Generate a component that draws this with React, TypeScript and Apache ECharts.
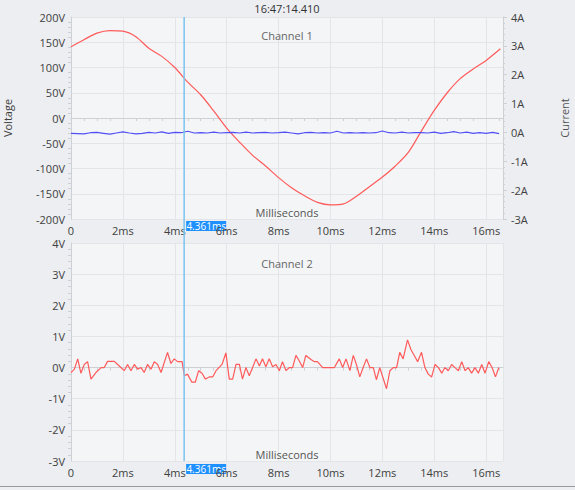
import React, { useEffect, useRef } from "react";
import * as echarts from "echarts";

// ---- Data ----
const HEADER_TIME = "16:47:14.410";
const CURSOR_MS = 4.361;
const X_MAX_MS = 16.65;

// Channel 1 voltage [ms, V]
const CH1_VOLTAGE: [number, number][] = [
  [0, 141], [0.5, 155], [1, 168], [1.5, 173], [2, 172], [2.5, 161], [3, 138], [3.5, 122],
  [4, 100], [4.5, 71], [5, 46], [5.5, 14], [6, -20], [6.5, -48], [7, -74], [7.5, -95],
  [8, -118], [8.5, -138], [9, -154], [9.5, -167], [10, -172], [10.5, -170], [11, -155],
  [11.5, -136], [12, -117], [12.5, -95], [13, -68], [13.5, -26], [14, 15], [14.5, 50],
  [15, 78], [15.5, 97], [16, 114], [16.55, 137],
];

// Channel 1 current [ms, A]
const CH1_CURRENT: [number, number][] = [
  [0, -0.03], [0.25, -0.04], [0.5, -0.05], [0.75, -0.01], [1.0, 0.0], [1.25, -0.03], [1.5, -0.06],
  [1.75, -0.02], [2.0, 0.02], [2.25, -0.02], [2.5, -0.05], [2.75, -0.03], [3.0, 0.0], [3.25, -0.02],
  [3.5, 0.02], [3.75, -0.03], [4.0, 0.0], [4.25, -0.01], [4.5, 0.04], [4.75, -0.02], [5.0, -0.01],
  [5.25, -0.02], [5.5, 0.01], [5.75, -0.02], [6.0, -0.01], [6.25, 0.0], [6.5, -0.02], [6.75, 0.01],
  [7.0, -0.02], [7.25, -0.01], [7.5, 0.0], [7.75, -0.02], [8.0, -0.01], [8.25, 0.01], [8.5, -0.02],
  [8.75, -0.05], [9.0, -0.01], [9.25, 0.0], [9.5, -0.02], [9.75, -0.01], [10.0, -0.02], [10.25, 0.04],
  [10.5, -0.02], [10.75, -0.01], [11.0, -0.02], [11.25, -0.01], [11.5, -0.02], [11.75, -0.01],
  [12.0, 0.05], [12.25, -0.01], [12.5, -0.02], [12.75, 0.01], [13.0, -0.02], [13.25, -0.01],
  [13.5, -0.01], [13.75, -0.02], [14.0, 0.01], [14.25, -0.03], [14.5, -0.01], [14.75, 0.03],
  [15.0, -0.02], [15.25, 0.01], [15.5, -0.03], [15.75, -0.01], [16.0, -0.03], [16.25, 0.0], [16.5, -0.04],
];

// Channel 2 voltage [ms, V]
const CH2_VOLTAGE: [number, number][] = [
  [0.0, -0.16], [0.13, -0.05], [0.26, 0.28], [0.38, -0.18], [0.51, 0.1], [0.64, 0.19], [0.77, -0.37],
  [0.96, -0.16], [1.16, 0], [1.28, 0], [1.41, 0.2], [1.67, 0.2], [1.86, 0.05], [2.05, -0.1],
  [2.18, 0.1], [2.31, -0.1], [2.44, 0.1], [2.57, -0.05], [2.7, 0], [2.82, -0.16], [2.95, 0.1],
  [3.08, -0.05], [3.21, 0.19], [3.34, 0.1], [3.47, -0.16], [3.72, 0.49], [3.85, 0.13], [3.98, 0.28],
  [4.11, 0.19], [4.28, 0.19], [4.37, -0.26], [4.49, -0.21], [4.66, -0.47], [4.79, -0.47], [4.92, -0.1],
  [5.05, -0.18], [5.18, -0.37], [5.33, -0.3], [5.46, -0.3], [5.59, -0.1], [5.82, 0.1], [5.97, 0.47],
  [6.1, -0.37], [6.23, -0.37], [6.36, 0.1], [6.49, 0.1], [6.61, -0.37], [6.74, 0], [6.87, -0.26],
  [7.13, 0.28], [7.26, 0.05], [7.38, 0.28], [7.51, 0.03], [7.64, 0.28], [7.77, 0.03], [7.9, 0.1],
  [8.03, -0.1], [8.15, 0.19], [8.29, -0.1], [8.41, 0], [8.54, 0], [8.67, 0.39], [8.8, 0.21],
  [8.93, 0], [9.05, 0.39], [9.25, 0.26], [9.38, 0.19], [9.5, 0.19], [9.7, 0], [10.15, 0],
  [10.34, 0.28], [10.47, 0], [10.6, 0.28], [10.75, -0.1], [10.88, 0.39], [11.0, 0.1], [11.13, -0.3],
  [11.26, 0], [11.39, 0.28], [11.52, 0], [11.65, 0], [11.77, -0.39], [11.9, 0], [12.16, -0.68],
  [12.29, -0.1], [12.42, 0], [12.55, 0], [12.67, 0.49], [12.8, 0.28], [12.97, 0.89], [13.1, 0.58],
  [13.23, 0.39], [13.36, 0.19], [13.51, 0.49], [13.64, 0], [13.77, -0.21], [13.9, -0.3], [14.03, 0.1],
  [14.16, 0], [14.29, -0.18], [14.41, 0], [14.54, -0.1], [14.67, 0.1], [14.8, 0], [14.93, -0.1],
  [15.06, 0.19], [15.19, -0.1], [15.31, 0], [15.44, -0.18], [15.57, 0], [15.7, -0.18], [15.83, 0.1],
  [15.96, -0.18], [16.1, 0.19], [16.23, 0], [16.36, -0.3], [16.49, 0],
];

// ---- Styles ----
const FONT = "Open Sans";
const OUTER_BG = "#eceef1";
const PLOT_BG = "#f4f5f7";
const GRID_LINE = "#e3e5e9";
const AXIS_LINE = "#cdd0d5";
const LABEL_COLOR = "#404040";
const RED = "#ff5a5a";
const BLUE = "#5050f5";
const CURSOR_COLOR = "#7cc3ef";
const CURSOR_LABEL_BG = "#1e90ff";

const msFormatter = (v: number) => (v === 0 ? "0" : `${v}ms`);

function xAxisFor(gridIndex: number) {
  return {
    gridIndex,
    type: "value",
    min: 0,
    max: X_MAX_MS,
    interval: 2,
    name: "Milliseconds",
    nameLocation: "middle",
    nameGap: -1,
    nameMoveOverlap: false,
    nameTextStyle: { color: "#555", fontSize: 11, fontFamily: FONT, verticalAlign: "bottom" },
    axisLine: { show: true, lineStyle: { color: AXIS_LINE } },
    axisTick: { show: false },
    minorTick: { show: true, splitNumber: 4, length: 3, lineStyle: { color: AXIS_LINE } },
    axisLabel: {
      formatter: msFormatter,
      color: LABEL_COLOR,
      fontSize: 11,
      fontFamily: FONT,
      margin: 6,
      showMaxLabel: false,
    },
    splitLine: { show: true, lineStyle: { color: GRID_LINE } },
  };
}

export default function App() {
  const ref = useRef<HTMLDivElement>(null);

  useEffect(() => {
    if (!ref.current) return;
    const chart = echarts.init(ref.current, undefined, { renderer: "svg" });

    const gridBase = {
      left: 71,
      width: 432,
      show: true,
      backgroundColor: PLOT_BG,
      borderWidth: 0,
      containLabel: false,
      outerBoundsMode: "none",
    };

    const option: any = {
      animation: false,
      backgroundColor: OUTER_BG,
      textStyle: { fontFamily: FONT },
      grid: [
        { ...gridBase, top: 17, height: 202 },
        { ...gridBase, top: 243, height: 218 },
      ],
      xAxis: [xAxisFor(0), xAxisFor(1)],
      yAxis: [
        {
          gridIndex: 0,
          type: "value",
          position: "left",
          min: -200,
          max: 200,
          interval: 50,
          name: "Voltage",
          nameLocation: "middle",
          nameGap: 58,
          nameMoveOverlap: false,
          nameTextStyle: { color: LABEL_COLOR, fontSize: 11, fontFamily: FONT },
          axisLine: { show: true, lineStyle: { color: AXIS_LINE } },
          axisTick: { show: false },
          minorTick: { show: true, splitNumber: 5, length: 3, lineStyle: { color: AXIS_LINE } },
          axisLabel: { formatter: "{value}V", color: LABEL_COLOR, fontSize: 11, fontFamily: FONT, margin: 6 },
          splitLine: { show: true, lineStyle: { color: GRID_LINE } },
        },
        {
          gridIndex: 0,
          type: "value",
          position: "right",
          min: -3,
          max: 4,
          interval: 1,
          name: "Current",
          nameLocation: "middle",
          nameGap: 56,
          nameMoveOverlap: false,
          nameTextStyle: { color: "#555", fontSize: 11, fontFamily: FONT },
          axisLine: { show: true, lineStyle: { color: AXIS_LINE } },
          axisTick: { show: true, length: 4, lineStyle: { color: AXIS_LINE } },
          minorTick: { show: true, splitNumber: 5, length: 2, lineStyle: { color: AXIS_LINE } },
          axisLabel: { formatter: "{value}A", color: LABEL_COLOR, fontSize: 11, fontFamily: FONT, margin: 8 },
          splitLine: { show: false },
        },
        {
          gridIndex: 1,
          type: "value",
          position: "left",
          min: -3,
          max: 4,
          interval: 1,
          axisLine: { show: true, lineStyle: { color: AXIS_LINE } },
          axisTick: { show: false },
          minorTick: { show: true, splitNumber: 5, length: 3, lineStyle: { color: AXIS_LINE } },
          axisLabel: { formatter: "{value}V", color: LABEL_COLOR, fontSize: 11, fontFamily: FONT, margin: 6 },
          splitLine: { show: true, lineStyle: { color: GRID_LINE } },
        },
      ],
      series: [
        {
          type: "line",
          name: "Voltage",
          xAxisIndex: 0,
          yAxisIndex: 0,
          data: CH1_VOLTAGE,
          smooth: 0.3,
          showSymbol: false,
          lineStyle: { color: RED, width: 1.2 },
        },
        {
          type: "line",
          name: "Current",
          xAxisIndex: 0,
          yAxisIndex: 1,
          data: CH1_CURRENT,
          showSymbol: false,
          lineStyle: { color: BLUE, width: 1.2 },
        },
        {
          type: "line",
          name: "Channel 2",
          xAxisIndex: 1,
          yAxisIndex: 2,
          data: CH2_VOLTAGE,
          showSymbol: false,
          lineStyle: { color: RED, width: 1.2 },
        },
      ],
    };
    chart.setOption(option);

    // Cursor & annotations positioned via the chart's own scales
    const cx = chart.convertToPixel({ xAxisIndex: 0 }, CURSOR_MS) as number;
    const midX = chart.convertToPixel({ xAxisIndex: 0 }, X_MAX_MS / 2) as number;
    const top1 = chart.convertToPixel({ yAxisIndex: 0 }, 200) as number;
    const bot1 = chart.convertToPixel({ yAxisIndex: 0 }, -200) as number;
    const top2 = chart.convertToPixel({ yAxisIndex: 2 }, 4) as number;
    const bot2 = chart.convertToPixel({ yAxisIndex: 2 }, -3) as number;
    const cursorText = `${CURSOR_MS}ms`;

    const labelBox = (yTop: number) => ({
      type: "group",
      z: 100,
      children: [
        { type: "rect", shape: { x: cx + 2, y: yTop, width: 40, height: 10 }, style: { fill: CURSOR_LABEL_BG } },
        {
          type: "text",
          x: cx + 2 + 20,
          y: yTop + 5,
          style: { text: cursorText, fill: "#ffffff", fontSize: 10, fontFamily: FONT, align: "center", verticalAlign: "middle" },
        },
      ],
    });

    chart.setOption({
      graphic: [
        {
          type: "text",
          x: midX,
          y: 8,
          style: { text: HEADER_TIME, fill: "#333", fontSize: 11, fontFamily: FONT, align: "center", verticalAlign: "middle" },
        },
        {
          type: "text",
          x: midX,
          y: top1 + 18,
          style: { text: "Channel 1", fill: "#666", fontSize: 11, fontFamily: FONT, align: "center", verticalAlign: "middle" },
        },
        {
          type: "text",
          x: midX,
          y: top2 + 20,
          style: { text: "Channel 2", fill: "#666", fontSize: 11, fontFamily: FONT, align: "center", verticalAlign: "middle" },
        },
        {
          type: "line",
          z: 90,
          shape: { x1: cx, y1: top1, x2: cx, y2: bot2 },
          style: { stroke: CURSOR_COLOR, lineWidth: 1.5 },
        },
        labelBox(bot1 + 2),
        labelBox(bot2 + 3),
        {
          type: "line",
          shape: { x1: 0, y1: 486.5, x2: 575, y2: 486.5 },
          style: { stroke: "#9a9a9a", lineWidth: 1 },
        },
      ],
    });

    return () => chart.dispose();
  }, []);

  return (
    <div
      ref={ref}
      style={{ position: "absolute", left: 0, top: 0, width: 575, height: 490 }}
    />
  );
}
